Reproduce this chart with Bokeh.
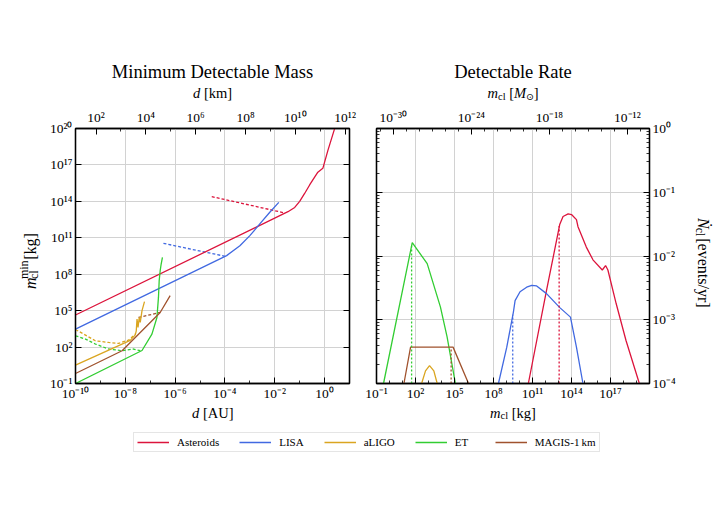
import math
from bokeh.plotting import figure
from bokeh.models import (Range1d, LogAxis, LogScale, FixedTicker, CustomJSTickFormatter,
                          Label, Legend, LegendItem)
from bokeh.layouts import column, row
from bokeh.embed import file_html
from bokeh.resources import INLINE

# ---------------- data ----------------
# Left panel: minimum detectable mass  (d in AU, m in kg)
AST_D = [1e-10, 3.39e-2, 6.31e-2, 1.0e-1, 1.58e-1, 2.51e-1, 3.98e-1, 5.37e-1, 8.51e-1, 1.35, 2.51]
AST_M = [4.37e4, 1.41e13, 3.16e13, 1.0e14, 4.47e14, 2.24e15, 1.0e16, 2.51e16, 5.25e16, 1.51e18, 9.33e19]
AST_DASH_D = [2.95e-5, 2.51e-2]
AST_DASH_M = [2.45e14, 1.12e13]

LISA_D = [1e-10, 1.17e-4, 3.98e-4, 1.0e-3, 2.51e-3, 6.31e-3, 1.45e-2]
LISA_M = [3.02e3, 3.39e9, 2.24e10, 1.51e11, 1.38e12, 1.26e13, 8.32e13]
LISA_DASH_D = [3.39e-7, 1.17e-4]
LISA_DASH_M = [3.47e10, 2.82e9]

LIGO_D = [1e-10, 3.98e-9, 1.58e-8, 2.51e-8, 2.75e-8, 2.95e-8, 3.24e-8, 3.63e-8, 3.98e-8, 4.68e-8, 5.89e-8]
LIGO_M = [3.31, 1.0e2, 3.55e2, 1.0e3, 2.19e3, 2.04e4, 4.17e3, 2.75e4, 1.07e4, 1.0e5, 5.5e5]
LIGO_DASH_D = [1e-10, 6.31e-10, 2.14e-9, 5.37e-9, 1.35e-8, 2.51e-8]
LIGO_DASH_M = [2.82e3, 3.31e2, 2.4e2, 2.0e2, 3.8e2, 1.17e3]

ET_D = [1e-10, 4.68e-8, 1.17e-7, 1.86e-7, 2.14e-7, 2.29e-7, 2.51e-7, 2.75e-7, 3.09e-7]
ET_M = [0.1, 52.5, 1.17e3, 2.75e4, 1.23e6, 2.95e7, 1.95e8, 6.92e8, 2.45e9]
ET_DASH_D = [1e-10, 2.51e-10, 6.31e-10, 2.14e-9, 7.41e-9, 2.14e-8, 3.98e-8]
ET_DASH_M = [851, 457, 178, 69.2, 50.1, 69.2, 50.1]

MAGIS_D = [1e-10, 7.41e-9, 2.51e-7, 6.31e-7]
MAGIS_M = [0.661, 50.1, 7.08e4, 1.7e6]
MAGIS_DASH_D = [3.39e-8, 2.51e-7]
MAGIS_DASH_M = [2.75e4, 7.08e4]

# Right panel: detectable rate (m in kg, rate in events/yr)
R_AST_M = [4.79e10, 1.2e12, 1.26e13, 2.24e13, 5.5e13, 1.0e14, 2.4e14, 3.16e14, 1.38e15,
           4.47e15, 2.34e16, 4.17e16, 6.31e16, 2.75e17, 1.58e18, 1.66e19]
R_AST_N = [1e-4, 2.88e-3, 3.16e-2, 4.17e-2, 4.57e-2, 4.47e-2, 3.72e-2, 2.88e-2, 1.38e-2,
           8.71e-3, 6.03e-3, 7.08e-3, 6.03e-3, 1.78e-3, 4.68e-4, 1e-4]
R_AST_MARK_M = [1.12e13, 1.12e13]
R_AST_MARK_N = [1e-4, 2.95e-2]

R_LISA_M = [2.4e8, 1.05e9, 3.39e9, 4.57e9, 1.1e10, 3.55e10, 8.71e10, 2.09e11, 1.2e12,
            1.26e13, 8.32e13, 2.4e14, 7.59e14]
R_LISA_N = [1e-4, 3.72e-4, 1.32e-3, 2.0e-3, 2.75e-3, 3.24e-3, 3.47e-3, 3.39e-3, 2.57e-3,
            1.55e-3, 1.1e-3, 3.72e-4, 1e-4]
R_LISA_MARK_M = [3.02e9, 3.02e9]
R_LISA_MARK_N = [1e-4, 1.2e-3]

R_LIGO_M = [295, 589, 1.2e3, 2.57e3, 4.68e3]
R_LIGO_N = [1e-4, 1.58e-4, 1.91e-4, 1.58e-4, 1e-4]

R_ET_M = [0.347, 56.2, 794, 8.32e3, 2.69e4, 1.17e5]
R_ET_N = [1e-4, 1.62e-2, 7.59e-3, 1.58e-3, 5.37e-4, 1e-4]
R_ET_MARK_M = [50.1, 50.1]
R_ET_MARK_N = [1e-4, 1.45e-2]

R_MAGIS_M = [12.9, 41.7, 7.76e4, 1.2e6]
R_MAGIS_N = [1e-4, 3.72e-4, 3.72e-4, 1e-4]
R_MAGIS_MARK_M = [5.5e4, 5.5e4]
R_MAGIS_MARK_N = [1e-4, 3.72e-4]

# axes
LEFT_X_RANGE = (1e-10, 1e1)
LEFT_Y_RANGE = (1e-1, 1e20)
TOP_PER_AU = 1.496e11          # conversion used by the top axis of the left panel
RIGHT_X_RANGE = (1e-1, 1e20)
RIGHT_Y_RANGE = (1e-4, 1e0)
KG_PER_MSUN = 1.989e30

LEFT_X_MAJOR = [1e-10, 1e-8, 1e-6, 1e-4, 1e-2, 1e0]
LEFT_X_MINOR = [1e-9, 1e-7, 1e-5, 1e-3, 1e-1, 1e1]
LEFT_TOP_MAJOR = [1e2, 1e4, 1e6, 1e8, 1e10, 1e12]
LEFT_TOP_MINOR = [1e3, 1e5, 1e7, 1e9, 1e11]
LEFT_Y_MAJOR = [1e-1, 1e2, 1e5, 1e8, 1e11, 1e14, 1e17, 1e20]
RIGHT_X_MAJOR = [1e-1, 1e2, 1e5, 1e8, 1e11, 1e14, 1e17]
RIGHT_X_MINOR = [10.0 ** e for e in range(-1, 21)]
RIGHT_TOP_MAJOR = [1e-30, 1e-24, 1e-18, 1e-12]
RIGHT_TOP_MINOR = [10.0 ** e for e in range(-31, -10)]
RIGHT_Y_MAJOR = [1e-4, 1e-3, 1e-2, 1e-1, 1e0]
RIGHT_Y_MINOR = [k * 10.0 ** e for e in range(-4, 0) for k in range(2, 10)]

LEGEND_NAMES = ["Asteroids", "LISA", "aLIGO", "ET", "MAGIS-1\u2009km"]

SERIF = "Liberation Serif"
C_AST, C_LISA, C_LIGO, C_ET, C_MAGIS = "#DC143C", "#4169E1", "#DAA520", "#32CD32", "#A0522D"
LW = 1.3
BASE_FIX = 5.5     # Bokeh places label text a little below the requested baseline

SUP_JS = """
const e = Math.round(Math.log10(tick));
const m = {'-':'\u207b','0':'\u2070','1':'\u00b9','2':'\u00b2','3':'\u00b3','4':'\u2074',
           '5':'\u2075','6':'\u2076','7':'\u2077','8':'\u2078','9':'\u2079'};
let s = '';
for (const c of String(e)) { s += m[c]; }
return '10' + s;
"""


def style_axis(ax, major, minor=None, labels=True):
    ax.ticker = FixedTicker(ticks=major, minor_ticks=minor or [])
    ax.formatter = CustomJSTickFormatter(code=SUP_JS if labels else "return '';")
    ax.major_tick_in = 6
    ax.major_tick_out = 0
    ax.minor_tick_in = 3
    ax.minor_tick_out = 0
    ax.axis_line_color = "black"
    ax.axis_line_width = 1.3
    ax.major_tick_line_color = "black"
    ax.minor_tick_line_color = "black"
    ax.major_tick_line_width = 1
    ax.minor_tick_line_width = 0.8
    ax.major_label_text_font = SERIF
    ax.major_label_text_font_size = "13.5px"
    ax.major_label_text_color = "black"
    ax.major_label_standoff = 4
    ax.axis_label = None


def text_fig(w, h):
    f = figure(width=w, height=h, x_range=Range1d(0, w), y_range=Range1d(0, h),
               x_axis_type=None, y_axis_type=None, min_border=0, toolbar_location=None,
               output_backend="svg", title=None)
    f.outline_line_color = None
    f.background_fill_color = "white"
    f.border_fill_color = "white"
    return f


def lay(f, fl, fb, x0, y0, parts, angle=0.0):
    """Run of text pieces (text, size, style, font, advance_px, shift_px).
    x0, y0: start of the baseline in page pixels; fl/fb: figure left / bottom in page pixels."""
    ca, sa = math.cos(angle), math.sin(angle)
    pos = 0.0
    for text, size, style, font, adv, shift in parts:
        s = shift - BASE_FIX
        wx = x0 + pos * ca + s * sa
        wy = y0 - pos * sa + s * ca
        f.add_layout(Label(x=wx - fl, y=fb - wy, text=text, angle=angle, text_font=font,
                           text_font_size=f"{size}px", text_font_style=style,
                           text_align="left", text_baseline="alphabetic",
                           text_color="black"))
        pos += adv


def base_fig(xr, yr, fw, fh, bl, br, y_loc="left"):
    p = figure(x_axis_type="log", y_axis_type="log", y_axis_location=y_loc,
               x_range=Range1d(*xr), y_range=Range1d(*yr),
               frame_width=fw, frame_height=fh, min_border_left=bl, min_border_right=br,
               min_border_top=25, min_border_bottom=18, title=None,
               toolbar_location=None, output_backend="svg")
    p.outline_line_color = "black"
    p.outline_line_width = 1.3
    p.background_fill_color = "white"
    p.border_fill_color = "white"
    for g in (p.xgrid[0], p.ygrid[0]):
        g.grid_line_color = "#d2d2d2"
        g.grid_line_width = 1
    return p


# ---------------- left panel ----------------
p1 = base_fig(LEFT_X_RANGE, LEFT_Y_RANGE, 274, 255, 31, 11)
style_axis(p1.below[0], LEFT_X_MAJOR, LEFT_X_MINOR)
p1.below[0].major_label_standoff = 2
style_axis(p1.left[0], LEFT_Y_MAJOR)
p1.left[0].major_label_standoff = 3
p1.extra_x_ranges = {"top": Range1d(LEFT_X_RANGE[0] * TOP_PER_AU, LEFT_X_RANGE[1] * TOP_PER_AU)}
p1.extra_x_scales = {"top": LogScale()}
ax_top1 = LogAxis(x_range_name="top")
style_axis(ax_top1, LEFT_TOP_MAJOR, LEFT_TOP_MINOR)
p1.add_layout(ax_top1, "above")
ax_r1 = LogAxis()
style_axis(ax_r1, LEFT_Y_MAJOR, labels=False)
p1.add_layout(ax_r1, "right")

p1.line(AST_DASH_D, AST_DASH_M, color=C_AST, line_width=LW, line_dash="3 2")
p1.line(LISA_DASH_D, LISA_DASH_M, color=C_LISA, line_width=LW, line_dash="3 2")
p1.line(LIGO_DASH_D, LIGO_DASH_M, color=C_LIGO, line_width=LW, line_dash="3 2")
p1.line(ET_DASH_D, ET_DASH_M, color=C_ET, line_width=LW, line_dash="3 2")
p1.line(MAGIS_DASH_D, MAGIS_DASH_M, color=C_MAGIS, line_width=LW, line_dash="3 2")
p1.line(AST_D, AST_M, color=C_AST, line_width=LW)
p1.line(LISA_D, LISA_M, color=C_LISA, line_width=LW)
p1.line(LIGO_D, LIGO_M, color=C_LIGO, line_width=LW)
p1.line(ET_D, ET_M, color=C_ET, line_width=LW)
p1.line(MAGIS_D, MAGIS_M, color=C_MAGIS, line_width=LW)

# ---------------- right panel ----------------
p2 = base_fig(RIGHT_X_RANGE, RIGHT_Y_RANGE, 273, 255, 16, 44, y_loc="right")
style_axis(p2.below[0], RIGHT_X_MAJOR, RIGHT_X_MINOR)
p2.below[0].major_label_standoff = 2
style_axis(p2.right[0], RIGHT_Y_MAJOR, RIGHT_Y_MINOR)
p2.right[0].major_label_standoff = 3
p2.extra_x_ranges = {"msun": Range1d(RIGHT_X_RANGE[0] / KG_PER_MSUN, RIGHT_X_RANGE[1] / KG_PER_MSUN)}
p2.extra_x_scales = {"msun": LogScale()}
ax_top2 = LogAxis(x_range_name="msun")
style_axis(ax_top2, RIGHT_TOP_MAJOR, RIGHT_TOP_MINOR)
p2.add_layout(ax_top2, "above")
ax_l2 = LogAxis()
style_axis(ax_l2, RIGHT_Y_MAJOR, RIGHT_Y_MINOR, labels=False)
p2.add_layout(ax_l2, "left")

p2.line(R_AST_M, R_AST_N, color=C_AST, line_width=LW)
p2.line(R_LISA_M, R_LISA_N, color=C_LISA, line_width=LW)
p2.line(R_LIGO_M, R_LIGO_N, color=C_LIGO, line_width=LW)
p2.line(R_ET_M, R_ET_N, color=C_ET, line_width=LW)
p2.line(R_MAGIS_M, R_MAGIS_N, color=C_MAGIS, line_width=LW)
p2.line(R_AST_MARK_M, R_AST_MARK_N, color=C_AST, line_width=LW, line_dash="2 2")
p2.line(R_LISA_MARK_M, R_LISA_MARK_N, color=C_LISA, line_width=LW, line_dash="2 2")
p2.line(R_ET_MARK_M, R_ET_MARK_N, color=C_ET, line_width=LW, line_dash="2 2")
p2.line(R_MAGIS_MARK_M, R_MAGIS_MARK_N, color=C_MAGIS, line_width=LW, line_dash="2 2")

# ---------------- text strips (titles and axis labels) ----------------
W = 713
top = text_fig(W, 103)                 # page y 0..103
for cx, t in ((212, "Minimum Detectable Mass"), (512.5, "Detectable Rate")):
    top.add_layout(Label(x=cx, y=103 - 77.3 + 6.3, text=t, text_font=SERIF,
                         text_font_size="18.5px", text_align="center",
                         text_baseline="alphabetic", text_color="black"))
lay(top, 0, 103, 192.5, 98.3, [("d", 14.5, "italic", SERIF, 10.9, 0),
                                 ("[km]", 14.5, "normal", SERIF, 28.2, 0)])
lay(top, 0, 103, 487, 98.3, [("m", 14.5, "italic", SERIF, 10.5, 0),
                               ("cl", 10.5, "normal", SERIF, 11.2, 3),
                               ("[", 14.5, "normal", SERIF, 4.8, 0),
                               ("M", 14.5, "italic", SERIF, 12.1, 0),
                               ("\u2299", 9.5, "normal", "DejaVu Sans", 7.6, 3),
                               ("]", 14.5, "normal", SERIF, 4.8, 0)])

BOT_TOP, BOT_BOTTOM = 401, 425
bot = text_fig(W, BOT_BOTTOM - BOT_TOP)
lay(bot, 0, BOT_BOTTOM, 191.5, 415.5, [("d", 14.5, "italic", SERIF, 10.9, 0),
                                         ("[AU]", 14.5, "normal", SERIF, 30.6, 0)])
lay(bot, 0, BOT_BOTTOM, 489.5, 415.5, [("m", 14.5, "italic", SERIF, 10.5, 0),
                                         ("cl", 10.5, "normal", SERIF, 11.2, 3),
                                         ("[kg]", 14.5, "normal", SERIF, 24.2, 0)])

ylab_l = text_fig(44, 298)             # page x 0..44, y 103..401
lay(ylab_l, 0, 401, 35.5, 292, [("m", 16, "italic", SERIF, 11.6, 0),
                                  ("min", 12, "normal", SERIF, 0, -6.5),
                                  ("cl", 12, "normal", SERIF, 22.7, 3.5),
                                  ("[kg]", 16, "normal", SERIF, 26.7, 0)], angle=math.pi / 2)

ylab_r = text_fig(20, 298)             # page x 693..713, y 103..401
lay(ylab_r, 693, 401, 697.5, 208.4, [("\u1e44", 16, "italic", SERIF, 11.6, 0),
                                       ("cl", 11.5, "normal", SERIF, 12.3, 3.5),
                                       ("[events/yr]", 16, "normal", SERIF, 69.3, 0)],
    angle=-math.pi / 2)

# ---------------- legend ----------------
pl = figure(width=W, height=31, x_range=Range1d(0, 1), y_range=Range1d(0, 1),
            x_axis_type=None, y_axis_type=None, min_border=0, toolbar_location=None,
            output_backend="svg", title=None)
pl.outline_line_color = None
items = []
for n, c in zip(LEGEND_NAMES, [C_AST, C_LISA, C_LIGO, C_ET, C_MAGIS]):
    r = pl.line([5, 6], [5, 6], color=c, line_width=LW)   # outside the visible range
    items.append(LegendItem(label=n, renderers=[r]))
leg = Legend(items=items, orientation="horizontal", location=(133, 6),
             glyph_width=32, glyph_height=12, label_height=12, label_standoff=8,
             spacing=20, padding=3, margin=0, label_text_font=SERIF,
             label_text_font_size="11px", label_text_color="black",
             border_line_color="#cccccc", border_line_width=1,
             background_fill_color="white", background_fill_alpha=1)
pl.add_layout(leg, "center")

layout = column(top, row(ylab_l, p1, p2, ylab_r), bot, pl)
open("out.html", "w").write(file_html(layout, INLINE))
